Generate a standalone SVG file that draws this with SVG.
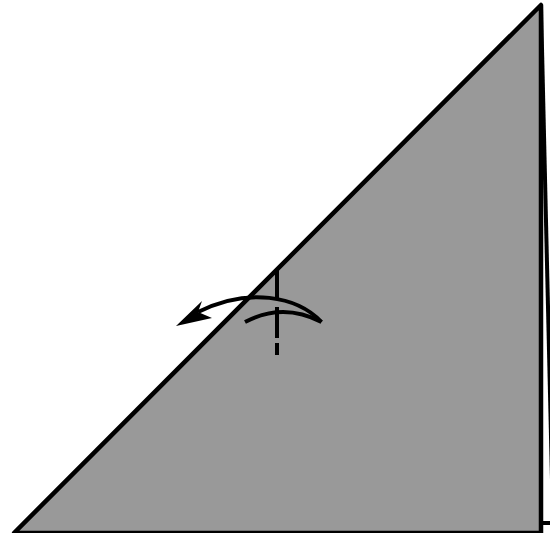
<svg xmlns="http://www.w3.org/2000/svg" width="550" height="533" viewBox="0 0 550 533">
<style>.l{fill:none;stroke:#000;stroke-width:4}</style>
<rect width="550" height="533" fill="#fff"/>
<path class="l" d="M541 5L553 523"/>
<path class="l" d="M541 523H550"/>
<path d="M541 5V533H14Z" fill="#999" stroke="#000" stroke-width="4.500" stroke-linejoin="round"/>
<g id="fold">
<path d="M277 270V300M277 307V338M277 343V355" class="l"/>
<path class="l" d="M245 322Q283 302 321.500 322"/>
<path class="l" d="M321.500 322C297 296 248 287 198 312"/>
<path d="M176 326L202 301L198 312L212 318Z" fill="#000"/>
</g>
</svg>
